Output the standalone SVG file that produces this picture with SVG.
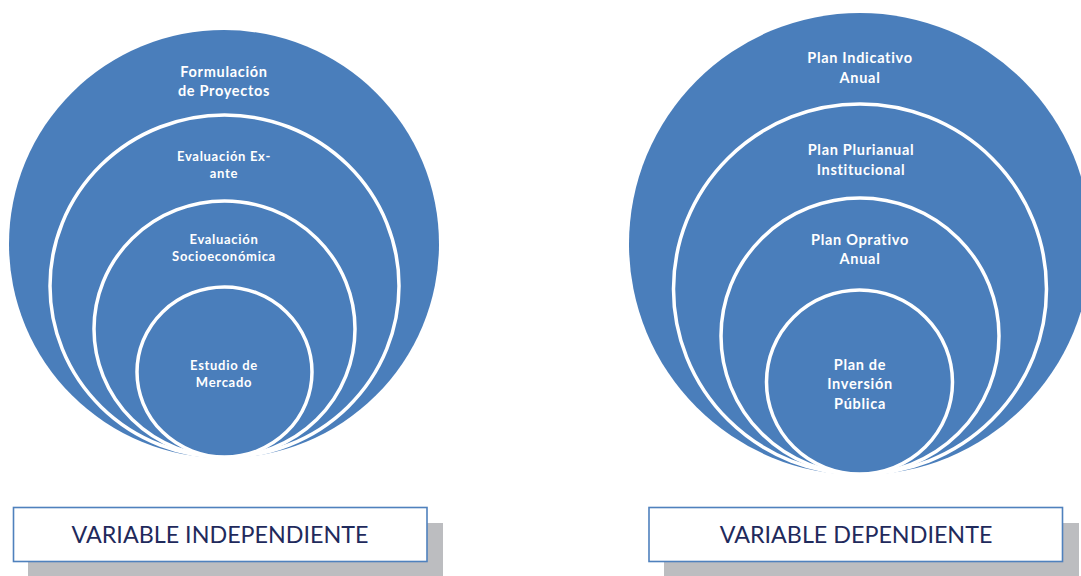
<svg xmlns="http://www.w3.org/2000/svg" width="1081" height="576" viewBox="0 0 1081 576">
<style>
.ring{fill:#4A7EBB;stroke:#FFFFFF;stroke-width:3.5}
.outer{fill:#4A7EBB;stroke:none}
.t{font-family:Lato,"Open Sans","Liberation Sans",sans-serif;font-weight:bold;fill:#FFFFFF;text-anchor:middle;letter-spacing:0.7px}
.l{font-size:14.5px}
.s{font-size:13px}
.r{font-size:14.5px}
.shadow{fill:#BCBDC0}
.box{fill:#FFFFFF;stroke:#4F81BD;stroke-width:1.6}
.lab{font-family:Lato,"Open Sans","Liberation Sans",sans-serif;font-size:23.3px;fill:#1F2A5C;text-anchor:middle}
</style>
<rect width="1081" height="576" fill="#FFFFFF"/>
<g id="left-diagram">
  <g id="formulacion">
    <ellipse class="outer" cx="224" cy="244" rx="215" ry="214"/>
    <text class="t l" x="224" y="77">Formulación</text>
    <text class="t l" x="224" y="96">de Proyectos</text>
  </g>
  <g id="evaluacion-exante">
    <ellipse class="ring" cx="224.5" cy="286" rx="174.5" ry="171"/>
    <text class="t s" x="224" y="161">Evaluación Ex-</text>
    <text class="t s" x="224" y="178">ante</text>
  </g>
  <g id="evaluacion-socio">
    <ellipse class="ring" cx="224.5" cy="329" rx="130.5" ry="128"/>
    <text class="t s" x="224" y="244">Evaluación</text>
    <text class="t s" x="224" y="261">Socioeconómica</text>
  </g>
  <g id="estudio-mercado">
    <ellipse class="ring" cx="224.5" cy="372" rx="87.5" ry="85"/>
    <text class="t s" x="224" y="370">Estudio de</text>
    <text class="t s" x="224" y="387">Mercado</text>
  </g>
</g>
<g id="right-diagram">
  <g id="plan-indicativo">
    <ellipse class="outer" cx="860" cy="244" rx="231" ry="231"/>
    <text class="t r" x="860" y="63">Plan Indicativo</text>
    <text class="t r" x="860" y="83">Anual</text>
  </g>
  <g id="plan-plurianual">
    <ellipse class="ring" cx="860" cy="289" rx="186.5" ry="185"/>
    <text class="t r" x="861" y="155">Plan Plurianual</text>
    <text class="t r" x="861" y="175">Institucional</text>
  </g>
  <g id="plan-operativo">
    <ellipse class="ring" cx="860" cy="336" rx="139" ry="138"/>
    <text class="t r" x="860" y="245">Plan Oprativo</text>
    <text class="t r" x="860" y="264">Anual</text>
  </g>
  <g id="plan-inversion">
    <ellipse class="ring" cx="859.5" cy="382" rx="93" ry="92"/>
    <text class="t r" x="860" y="370">Plan de</text>
    <text class="t r" x="860" y="389">Inversión</text>
    <text class="t r" x="860" y="409">Pública</text>
  </g>
</g>
<g id="label-independiente">
  <rect class="shadow" x="28" y="523" width="415" height="60"/>
  <rect class="box" x="13.5" y="507.5" width="413.5" height="54"/>
  <text class="lab" x="220" y="543">VARIABLE INDEPENDIENTE</text>
</g>
<g id="label-dependiente">
  <rect class="shadow" x="664" y="523" width="415" height="60"/>
  <rect class="box" x="649" y="507.5" width="413.5" height="54"/>
  <text class="lab" x="856" y="543">VARIABLE DEPENDIENTE</text>
</g>
<g id="connectors"/>
</svg>
